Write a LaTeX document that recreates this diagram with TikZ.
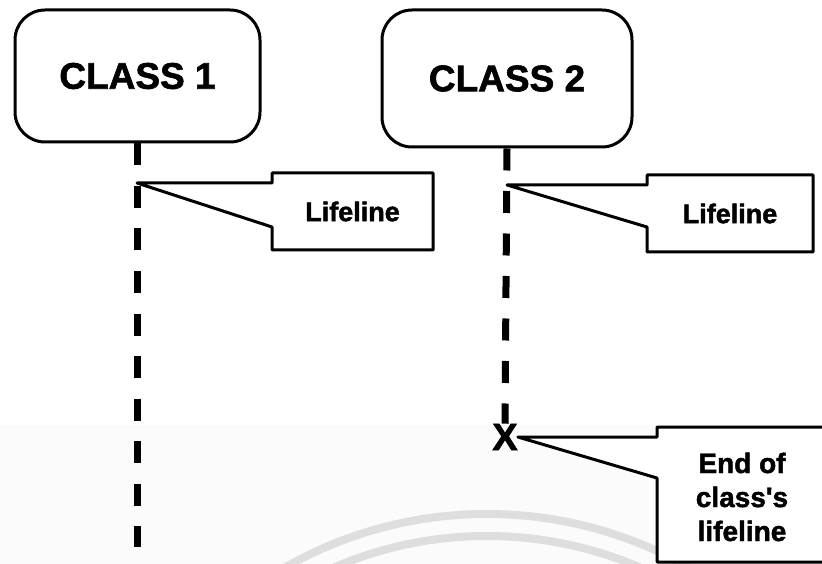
\documentclass[tikz,border=0pt]{standalone}
\usepackage{fontspec}
\setmainfont{Liberation Sans}
\newfontfamily\heavyfont{Liberation Sans Bold}[FakeBold=1.6]
\usetikzlibrary{calc}
\begin{document}
\begin{tikzpicture}[x=1pt,y=-1pt,
  classbox/.style={draw,line width=3pt,rounded corners=30pt,inner sep=0pt,
    font=\heavyfont\fontsize{37}{40}\selectfont},
  lifeline/.style={line width=7pt,dash pattern=on 22pt off 20.5pt},
  calloutline/.style={draw,line width=3pt,line join=round,fill=white},
  calltext/.style={inner sep=0pt,align=center,
    font=\heavyfont\fontsize{27}{34}\selectfont}]
  % page and faint background arcs
  \useasboundingbox (0,0) rectangle (822,564);
  \fill[black!1.5] (0,425) rectangle (822,564);
  \begin{scope}
    \clip (0,0) rectangle (822,564);
    \draw[black!13,line width=8pt] (487,922) circle[radius=408];
    \draw[black!13,line width=8pt] (487,922) circle[radius=386];
  \end{scope}

  % classes
  \node[classbox,minimum width=245pt,minimum height=132pt] (C1) at (137.5,76) {CLASS 1};
  \node[classbox,minimum width=250pt,minimum height=137pt] (C2) at (507,78.5) {CLASS 2};

  % end-of-life mark
  \node[inner sep=0pt,font=\heavyfont\fontsize{38}{38}\selectfont] (X) at (505,437) {X};

  % callout tips
  \coordinate (t1) at (137,183);
  \coordinate (t2) at (507,185);
  \coordinate (t3) at (X.east);

  % callout labels
  \node[calltext] (L1) at (352.5,211.5) {Lifeline};
  \node[calltext] (L2) at (730,213.5) {Lifeline};
  \node[calltext,font=\heavyfont\fontsize{28}{34}\selectfont] (E) at (742,497) {End of\\class's\\lifeline};

  % callout outlines
  \draw[calloutline] (t1) -- (272,183) -- (272,173) -- (433,173) -- (433,250)
    -- (272,250) -- (272,227) -- cycle;
  \draw[calloutline] (t2) -- (647,185) -- (647,175) -- (813,175) -- (813,252)
    -- (647,252) -- (647,227) -- cycle;
  \draw[calloutline] (t3) -- (657,437) -- (657,427) -- (840,427) -- (840,562)
    -- (657,562) -- (657,478) -- cycle;

  % labels above the filled outlines
  \node[calltext] at (L1) {Lifeline};
  \node[calltext] at (L2) {Lifeline};
  \node[calltext,font=\heavyfont\fontsize{28}{34}\selectfont] at (E) {End of\\class's\\lifeline};

  % lifelines
  \coordinate (end1) at (C1.south |- 0,547);
  \draw[lifeline] (C1.south) -- (end1);
  \draw[lifeline] (C2.south) -- (X.north);
\end{tikzpicture}
\end{document}
